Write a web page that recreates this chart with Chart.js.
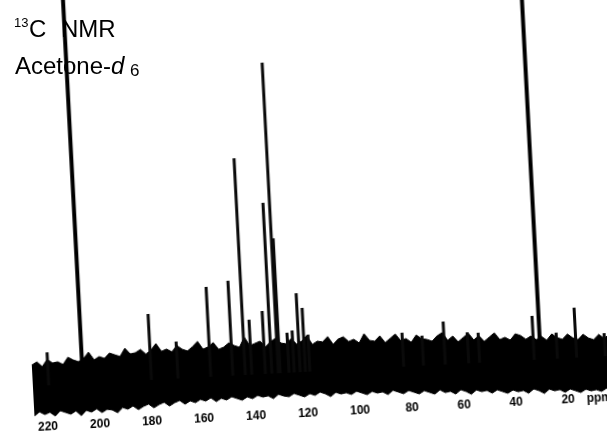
<!DOCTYPE html>
<html>
<head>
<meta charset="utf-8">
<script src="https://cdn.jsdelivr.net/npm/chart.js"></script>
<style>
  html, body { margin: 0; padding: 0; background: #fff; width: 607px; height: 433px; overflow: hidden; position: relative; }
  #wrap { position: absolute; left: -40px; top: -40px; width: 720px; height: 500px; transform: rotate(-3deg); transform-origin: 343px 440px; }
  #c { display: block; }
  .t { position: absolute; font-family: "Liberation Sans", Arial, sans-serif; color: #000; line-height: 1; white-space: nowrap; z-index: 2; }
</style>
</head>
<body>
<div id="wrap"><canvas id="c" width="720" height="500"></canvas></div>
<span class="t" style="left:14px; top:16px; font-size:13px;">13</span>
<span class="t" style="left:29px; top:17px; font-size:24px;">C</span>
<span class="t" style="left:61px; top:17px; font-size:24px;">NMR</span>
<span class="t" style="left:15px; top:54px; font-size:24px;">Acetone-</span>
<span class="t" style="left:111px; top:54px; font-size:24px; font-style:italic;">d</span>
<span class="t" style="left:130px; top:62px; font-size:17px;">6</span>
<script>
// x-axis (ppm) tick values and unit label position
const tickValues = [220, 200, 180, 160, 140, 120, 100, 80, 60, 40, 20];
const unitTickPpm = 8;
const unitLabel = 'ppm';

// Solvent (acetone-d6) signals, run off the top of the plot
const solventPpm = [205.7, 29.7];
const solventHeight = [600, 600];

// Sample peaks (ppm, height above baseline)
const peakPpm = [218.9, 179.4, 169.2, 156.6, 148.1, 143.3, 140.8, 135.6, 133.1, 130.6, 129.9, 126.5, 124.5, 122.2, 120.2, 118.5, 82.4, 74.8, 66.4, 57.4, 53.2, 32.2, 23.3, 15.9, 4.9];
const peakHeight = [33, 66, 37, 90, 95, 217, 55, 63, 171, 311, 135, 40, 42, 79, 64, 37, 34, 30, 43, 31, 30, 44, 26, 50, 23];

// Baseline noise band: upper and lower envelopes
const noisePpm = [225,223,221,219,217,215,213,211,209,207,205,203,201,199,197,195,193,191,189,187,185,183,181,179,177,175,173,171,169,167,165,163,161,159,157,155,153,151,149,147,145,143,141,139,137,135,133,131,129,127,125,123,121,119,117,115,113,111,109,107,105,103,101,99,97,95,93,91,89,87,85,83,81,79,77,75,73,71,69,67,65,63,61,59,57,55,53,51,49,47,45,43,41,39,37,35,33,31,29,27,25,23,21,19,17,15,13,11,9,7,5,3,1,-1,-3,-5];
const noiseTop = [21,24,19,26,22,23,20,27,24,22,25,31,23,26,24,29,27,25,33,27,28,31,26,30,36,28,30,27,33,29,27,31,36,28,30,34,27,29,33,30,28,38,29,31,33,27,32,35,30,29,34,28,31,36,27,30,29,34,26,31,33,28,30,26,35,28,27,32,25,29,33,26,28,24,31,27,26,24,29,32,24,28,22,26,30,23,27,21,25,29,22,24,21,27,25,21,24,20,23,19,25,21,19,24,20,18,23,19,17,22,18,21,16,20,17,19];
const noiseBottom = [-30,-26,-29,-27,-31,-26,-28,-30,-27,-32,-27,-29,-26,-30,-27,-28,-31,-26,-28,-25,-29,-26,-24,-28,-25,-23,-27,-24,-22,-26,-23,-25,-22,-24,-21,-25,-22,-24,-21,-23,-25,-22,-24,-21,-23,-22,-25,-21,-23,-24,-21,-23,-25,-22,-24,-21,-23,-26,-22,-24,-23,-25,-22,-24,-26,-23,-25,-24,-27,-23,-25,-27,-24,-26,-28,-25,-27,-29,-25,-28,-27,-30,-26,-28,-31,-27,-29,-28,-31,-28,-30,-32,-29,-31,-30,-33,-29,-31,-34,-30,-32,-31,-34,-31,-33,-35,-32,-34,-33,-35,-32,-34,-33,-35,-33,-34];

// Build the library's data structures from the arrays above
function sticks(ppms, heights) {
  const out = [];
  for (let i = 0; i < ppms.length; i++) {
    out.push({x: ppms[i], y: 0}, {x: ppms[i], y: heights[i]}, {x: ppms[i], y: null});
  }
  return out;
}
const topData = noisePpm.map((p, i) => ({x: p, y: noiseTop[i]}));
const bottomData = noisePpm.map((p, i) => ({x: p, y: noiseBottom[i]}));

new Chart(document.getElementById('c'), {
  type: 'line',
  data: {
    datasets: [
      { label: 'solvent', data: sticks(solventPpm, solventHeight), borderColor: '#000', borderWidth: 4, pointRadius: 0, spanGaps: false, fill: false, borderCapStyle: 'butt' },
      { label: 'peaks', data: sticks(peakPpm, peakHeight), borderColor: '#0a0a0a', borderWidth: 3, pointRadius: 0, spanGaps: false, fill: false, borderCapStyle: 'butt' },
      { label: 'noiseTop', data: topData, borderColor: '#000', backgroundColor: '#000', borderWidth: 1, pointRadius: 0, tension: 0, fill: '+1' },
      { label: 'noiseBottom', data: bottomData, borderColor: '#000', borderWidth: 1, pointRadius: 0, tension: 0, fill: false }
    ]
  },
  options: {
    responsive: false,
    animation: false,
    devicePixelRatio: 1,
    layout: { padding: { left: 74, right: 8, top: 0, bottom: 0 } },
    plugins: { legend: { display: false }, tooltip: { enabled: false }, title: { display: false } },
    scales: {
      x: {
        type: 'linear',
        reverse: true,
        min: -20,
        max: 225,
        offset: false,
        grid: { display: false, drawTicks: false },
        border: { display: false },
        afterBuildTicks: (scale) => { scale.ticks = tickValues.concat([unitTickPpm]).map(v => ({value: v})); },
        afterFit: (scale) => { scale.height = 52; },
        ticks: {
          autoSkip: false,
          maxRotation: 0,
          minRotation: 0,
          padding: -2,
          color: '#000',
          font: { family: '"Liberation Sans", Arial, sans-serif', size: 12, weight: 'bold' },
          callback: (v) => v === unitTickPpm ? unitLabel : String(v)
        }
      },
      y: {
        type: 'linear',
        display: false,
        min: -36,
        max: 412
      }
    }
  }
});
</script>
</body>
</html>
